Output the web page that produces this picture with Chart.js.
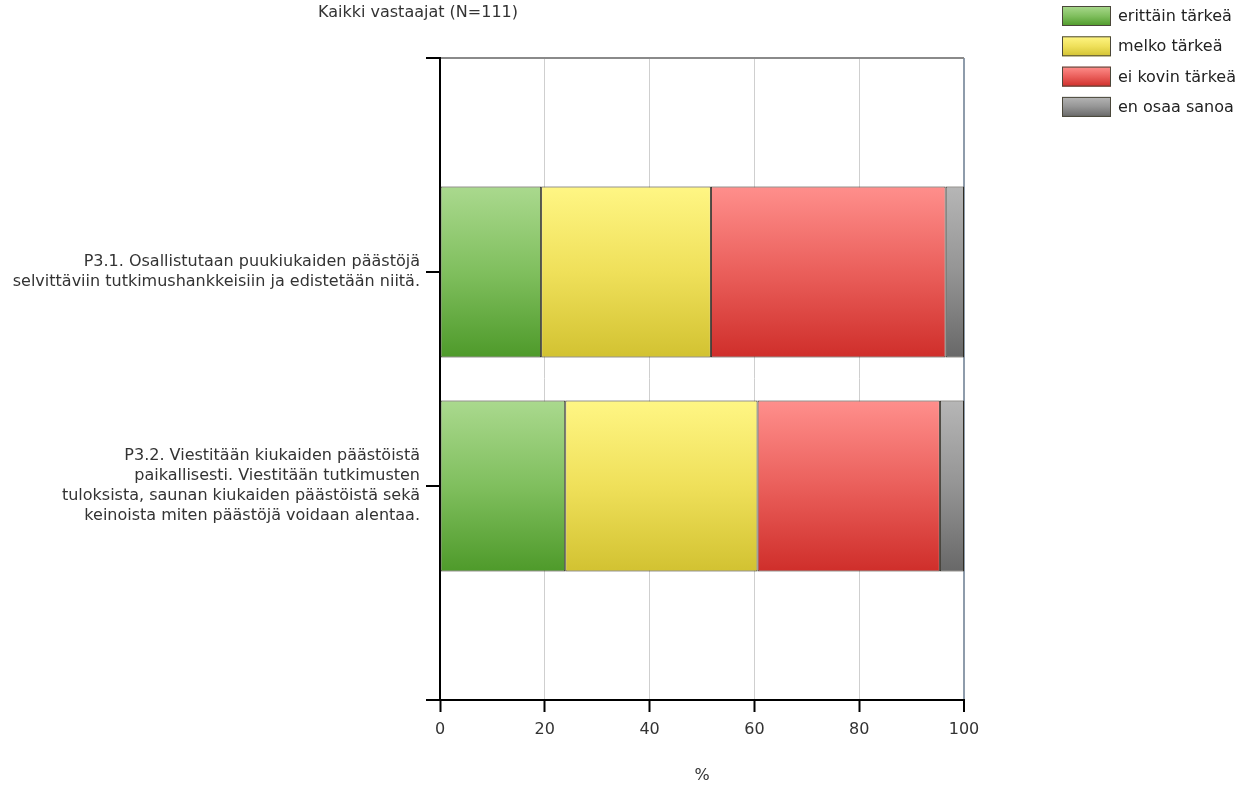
<!DOCTYPE html>
<html lang="fi">
<head>
<meta charset="utf-8">
<title>Kaikki vastaajat (N=111)</title>
<script src="https://cdn.jsdelivr.net/npm/chart.js@4/dist/chart.umd.min.js"></script>
<style>
  html, body { margin: 0; padding: 0; background: #ffffff; }
  #wrap { width: 1246px; height: 787px; }
</style>
</head>
<body>
<div id="wrap"><canvas id="chart" width="1246" height="787"></canvas></div>
<script>
// Survey items (multi-line category labels)
const categories = [
  ['P3.1. Osallistutaan puukiukaiden päästöjä',
   'selvittäviin tutkimushankkeisiin ja edistetään niitä.'],
  ['P3.2. Viestitään kiukaiden päästöistä',
   'paikallisesti. Viestitään tutkimusten',
   'tuloksista, saunan kiukaiden päästöistä sekä',
   'keinoista miten päästöjä voidaan alentaa.']
];

const seriesNames = ['erittäin tärkeä', 'melko tärkeä', 'ei kovin tärkeä', 'en osaa sanoa'];

// Share of answers (%) per item
const erittainTarkea = [19.3, 23.9];
const melkoTarkea    = [32.4, 36.7];
const eiKovinTarkea  = [44.8, 34.8];
const enOsaaSanoa    = [3.5, 4.6];

const xTicks = [0, 20, 40, 60, 80, 100];
const chartTitle = 'Kaikki vastaajat (N=111)';
const axisTitle = '%';

// Gradient stops for each answer class: top, middle, bottom
const palette = [
  ['#aad98e', '#80bf5e', '#4e9a2a'],
  ['#fff684', '#efe05a', '#d2c231'],
  ['#ff8f8c', '#ea5f5b', '#cf2e2a'],
  ['#b6b6b6', '#949494', '#686868']
];

const FONT = '"DejaVu Sans", Verdana, sans-serif';

// Blank slots at both ends give the empty bands above and below the bars
const labels = [''].concat(categories, ['']);
const pad = arr => [null].concat(arr, [null]);

function makeGradient(ctx2d, top, bottom, stops) {
  const g = ctx2d.createLinearGradient(0, top, 0, bottom);
  g.addColorStop(0, stops[0]);
  g.addColorStop(0.5, stops[1]);
  g.addColorStop(1, stops[2]);
  return g;
}

function barFill(stops) {
  return (ctx) => {
    const chart = ctx.chart;
    const y = chart.scales && chart.scales.y;
    if (!y || ctx.type !== 'data' || ctx.dataIndex == null) return stops[1];
    const c = y.getPixelForValue(ctx.dataIndex);
    const step = Math.abs(y.getPixelForValue(1) - y.getPixelForValue(0));
    const half = step * 0.8 / 2;
    if (!isFinite(c) || !isFinite(half) || half <= 0) return stops[1];
    return makeGradient(chart.ctx, c - half, c + half, stops);
  };
}

const seriesValues = [erittainTarkea, melkoTarkea, eiKovinTarkea, enOsaaSanoa];

const datasets = seriesNames.map((name, i) => ({
  label: name,
  data: pad(seriesValues[i]),
  backgroundColor: barFill(palette[i]),
  borderColor: '#2e2b22',
  borderWidth: 1,
  borderSkipped: false,
  barPercentage: 0.8,
  categoryPercentage: 1.0
}));

// Title above the plot
const titlePlugin = {
  id: 'topTitle',
  afterDraw(chart) {
    const c = chart.ctx;
    c.save();
    c.font = '16px ' + FONT;
    c.fillStyle = '#333333';
    c.textAlign = 'center';
    c.textBaseline = 'middle';
    c.fillText(chartTitle, 418, 13);
    c.restore();
  }
};

// Legend box in the top right corner, built from the datasets
const legendPlugin = {
  id: 'cornerLegend',
  afterDraw(chart) {
    const c = chart.ctx;
    const x0 = 1062, y0 = 6, bw = 49, bh = 20, gap = 30.3;
    c.save();
    c.font = '16px ' + FONT;
    c.textBaseline = 'middle';
    c.textAlign = 'left';
    chart.data.datasets.forEach((ds, i) => {
      const y = y0 + i * gap;
      c.fillStyle = makeGradient(c, y, y + bh, palette[i]);
      c.fillRect(x0, y, bw, bh);
      c.strokeStyle = '#4a473a';
      c.lineWidth = 1;
      c.strokeRect(x0 + 0.5, y + 0.5, bw - 1, bh - 1);
      c.fillStyle = '#222222';
      c.fillText(ds.label, x0 + bw + 7, y + bh / 2 + 1);
    });
    c.restore();
  }
};

new Chart(document.getElementById('chart'), {
  type: 'bar',
  data: { labels, datasets },
  plugins: [titlePlugin, legendPlugin],
  options: {
    indexAxis: 'y',
    responsive: false,
    animation: false,
    layout: { padding: { top: 58, right: 282, bottom: 0, left: 0 } },
    plugins: {
      legend: { display: false },
      title: { display: false },
      tooltip: { enabled: false }
    },
    scales: {
      x: {
        type: 'linear',
        stacked: true,
        min: 0,
        max: 100,
        afterBuildTicks(scale) { scale.ticks = xTicks.map(v => ({ value: v })); },
        afterFit(scale) { scale.height = 87; },
        border: { display: true, color: '#000000', width: 2 },
        grid: {
          drawOnChartArea: true,
          color: (ctx) => ctx.tick && ctx.tick.value === 100 ? '#8e9cab'
                          : (ctx.tick && ctx.tick.value === 0 ? 'rgba(0,0,0,0)' : '#cfcfcf'),
          lineWidth: (ctx) => ctx.tick && ctx.tick.value === 100 ? 2 : 1,
          tickColor: '#000000',
          tickWidth: 2,
          tickLength: 12
        },
        ticks: {
          color: '#333333',
          font: { family: FONT, size: 16 },
          padding: 8,
          maxRotation: 0
        },
        title: {
          display: true,
          text: axisTitle,
          color: '#333333',
          font: { family: FONT, size: 16 },
          padding: { top: 0, bottom: 2 }
        }
      },
      y: {
        type: 'category',
        stacked: true,
        offset: false,
        afterFit(scale) { scale.width = 440; },
        border: { display: true, color: '#000000', width: 2 },
        grid: {
          offset: false,
          drawOnChartArea: true,
          color: (ctx) => ctx.index === 0 ? '#8a8a8a' : 'rgba(0,0,0,0)',
          lineWidth: 2,
          tickColor: '#000000',
          tickWidth: 2,
          tickLength: 14
        },
        ticks: {
          autoSkip: false,
          color: '#333333',
          font: { family: FONT, size: 16, lineHeight: 1.25 },
          padding: 6
        }
      }
    }
  }
});
</script>
</body>
</html>
